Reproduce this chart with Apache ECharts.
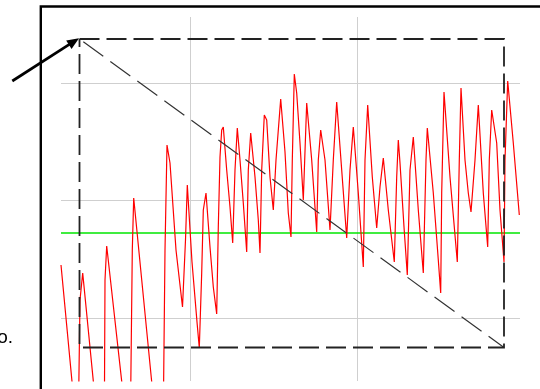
<!DOCTYPE html>
<html>
<head>
<meta charset="utf-8">
<script src="https://cdn.jsdelivr.net/npm/echarts/dist/echarts.min.js"></script>
<style>
html,body{margin:0;padding:0;background:#fff;overflow:hidden}
#chart{width:540px;height:389px}
</style>
</head>
<body>
<div id="chart"></div>
<script>
// sample positions (x) and signal values (y)
const sampleX = [0,17,19,21.7,43,44,45.7,69,71.3,72.7,
  101.5,104,106,109,115,121.5,124.5,126.3,131,136,
  138.3,140.7,142.3,145,149,152.3,155.7,157.3,159,160.7,
  162.3,165.7,169,171.7,174,176.3,179,182.3,185.7,187.3,
  189.7,194,197.3,199,200.7,203.3,205.7,209,212.3,215,
  219.7,224,227.3,230,231.3,233.3,235.7,239,242.3,245.7,
  250.7,255.7,257.3,259.7,264,269,272.3,275.7,280.7,285.7,
  289,292.3,297.3,302.3,304,306.7,311.3,315.7,319,322.3,
  327.3,333.3,335.7,337.3,339,343,346.3,349,352.3,357.3,
  362.3,365,366.3,372.3,377.3,379.7,380.7,383,389,396.3,
  398.3,400,404,407.3,410,414,417.3,422.3,426.7,428.3,
  430.7,435.7,439,443,444,446.7,452.3,458.3];
const signal = [116,-64,81,108,-109,101,135,-75,131,183,
  -111,131,236,218,131,74,141,196,119,59,
  33,108,171,188,134,94,67,154,224,251,
  254,211,174,138,211,253,221,178,129,211,
  248,204,161,128,211,266,261,204,171,221,
  282,229,168,144,221,307,288,238,181,278,
  221,149,221,251,221,151,221,279,211,143,
  211,254,188,114,221,276,204,153,194,223,
  171,119,204,241,218,154,106,211,244,171,
  108,221,253,188,121,88,188,289,204,119,
  221,293,221,188,169,221,276,188,134,221,
  271,238,171,119,221,300,238,166];
const gridLinesX = [129.7, 296.3];
const gridLinesY = [63, 180.3, 297.7];
const referenceLevel = 148.7;
const boxTopLeft = [18.5, 342];
const boxBottomRight = [443, 33.5];
const arrowFrom = [-48.7, 300];
const arrowTo = [18, 342.7];
const sideLabel = 'o.';

const chart = echarts.init(document.getElementById('chart'), null, {renderer: 'canvas'});
const signalData = sampleX.map((x, i) => [x, signal[i]]);
const boxPath = [
  [boxTopLeft[0], boxTopLeft[1]],
  [boxBottomRight[0], boxTopLeft[1]],
  [boxBottomRight[0], boxBottomRight[1]],
  [boxTopLeft[0], boxBottomRight[1]],
  [boxTopLeft[0], boxTopLeft[1]]
];
const diagPath = [boxTopLeft, boxBottomRight];

const markData = [];
gridLinesX.forEach(v => markData.push({xAxis: v}));
gridLinesY.forEach(v => markData.push({yAxis: v}));
markData.push({yAxis: referenceLevel, lineStyle: {color: '#00e600', width: 1.5, type: 'solid'}});

chart.setOption({
  animation: false,
  backgroundColor: '#ffffff',
  grid: {left: 61, right: 20, top: 17, bottom: 8, containLabel: false},
  xAxis: {type: 'value', min: 0, max: 459, show: false},
  yAxis: {type: 'value', min: 0, max: 364, show: false},
  series: [
    {
      type: 'line', data: signalData, z: 2, silent: true,
      symbol: 'none', showSymbol: false,
      lineStyle: {color: '#ff0000', width: 1.2},
      markLine: {
        silent: true, z: 1, symbol: 'none', label: {show: false},
        lineStyle: {color: '#cfcfcf', width: 1, type: 'solid'},
        emphasis: {disabled: true},
        data: markData
      }
    },
    {
      type: 'line', data: diagPath, z: 3, silent: true,
      symbol: 'none', showSymbol: false,
      lineStyle: {color: '#333333', width: 1.2, type: [24.7, 8.7], dashOffset: 28.7}
    },
    {
      type: 'line', data: boxPath, z: 4, silent: true,
      symbol: 'none', showSymbol: false,
      lineStyle: {color: '#222222', width: 1.8, type: [20, 7], join: 'miter'}
    }
  ]
});

const p0 = chart.convertToPixel({gridIndex: 0}, arrowFrom);
const p1 = chart.convertToPixel({gridIndex: 0}, arrowTo);
const dx = p1[0] - p0[0], dy = p1[1] - p0[1];
const len = Math.sqrt(dx * dx + dy * dy);
const ux = dx / len, uy = dy / len;
const headLen = 12, headHalf = 5;
const bx = p1[0] - ux * headLen, by = p1[1] - uy * headLen;

chart.setOption({
  graphic: [
    {type: 'rect', silent: true, shape: {x: 40.8, y: 6.5, width: 700, height: 700},
     style: {fill: null, stroke: '#000', lineWidth: 2.4}},
    {type: 'line', silent: true, shape: {x1: p0[0], y1: p0[1], x2: bx + ux, y2: by + uy},
     style: {stroke: '#000', lineWidth: 2.7}},
    {type: 'polygon', silent: true,
     shape: {points: [[p1[0], p1[1]], [bx - uy * headHalf, by + ux * headHalf], [bx + uy * headHalf, by - ux * headHalf]]},
     style: {fill: '#000'}},
    {type: 'text', silent: true, x: 13, y: 337.5,
     style: {text: sideLabel, font: '19px "Liberation Sans", Arial, sans-serif', fill: '#000', align: 'right', verticalAlign: 'middle'}}
  ]
});
</script>
</body>
</html>
